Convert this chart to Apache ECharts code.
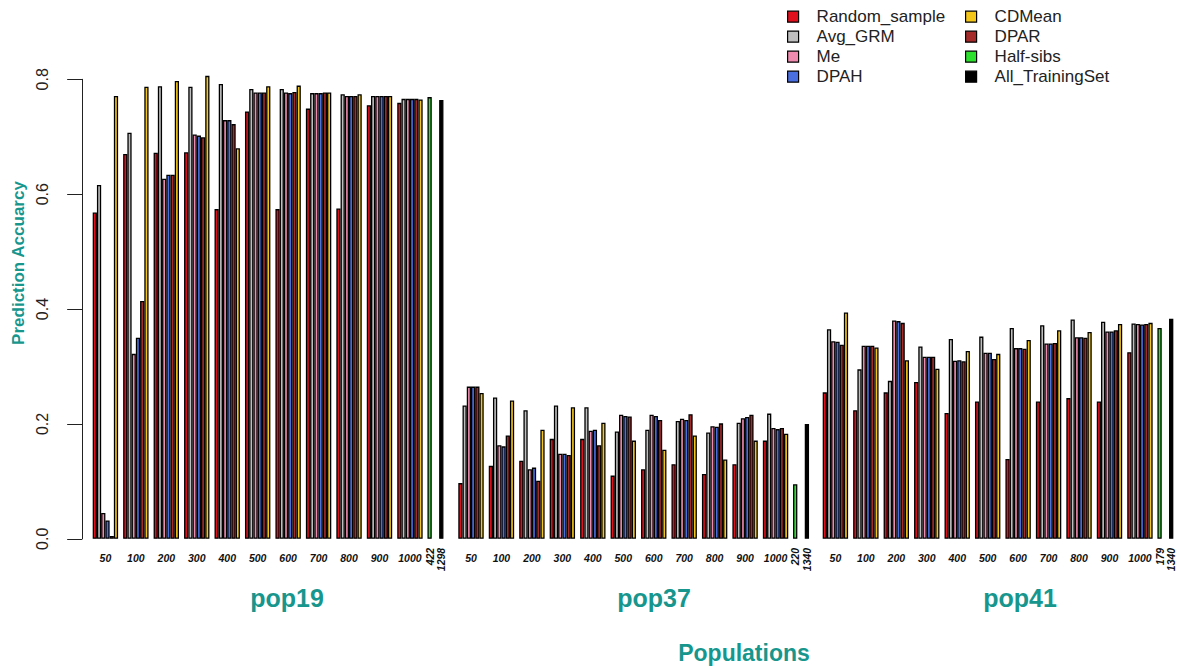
<!DOCTYPE html>
<html>
<head>
<meta charset="utf-8">
<script src="https://cdn.jsdelivr.net/npm/echarts@6/dist/echarts.min.js"></script>
<style>
html,body{margin:0;padding:0;background:#fff;}
#chart{width:1177px;height:669px;}
</style>
</head>
<body>
<div id="chart"></div>
<script>
// ---- Data ----
const sizes = ['50','100','200','300','400','500','600','700','800','900','1000'];
const populations = ['pop19','pop37','pop41'];
const methodNames = ['Random_sample','Avg_GRM','Me','DPAH','DPAR','CDMean'];

const pop19Random = [0.568,0.670,0.672,0.673,0.574,0.744,0.574,0.749,0.575,0.755,0.759];
const pop19AvgGRM = [0.616,0.707,0.788,0.787,0.792,0.783,0.783,0.776,0.774,0.771,0.766];
const pop19Me     = [0.045,0.322,0.627,0.704,0.729,0.777,0.777,0.776,0.771,0.771,0.766];
const pop19DPAH   = [0.032,0.350,0.634,0.702,0.729,0.777,0.776,0.776,0.771,0.771,0.766];
const pop19DPAR   = [0.005,0.414,0.634,0.699,0.722,0.777,0.778,0.777,0.771,0.771,0.766];
const pop19CDMean = [0.771,0.787,0.797,0.806,0.680,0.788,0.789,0.777,0.774,0.771,0.765];

const pop37Random = [0.097,0.127,0.136,0.174,0.174,0.110,0.121,0.130,0.113,0.130,0.171];
const pop37AvgGRM = [0.232,0.246,0.224,0.232,0.229,0.187,0.190,0.205,0.185,0.202,0.218];
const pop37Me     = [0.265,0.163,0.121,0.148,0.188,0.216,0.216,0.209,0.196,0.210,0.193];
const pop37DPAH   = [0.265,0.161,0.124,0.148,0.190,0.214,0.214,0.207,0.195,0.212,0.191];
const pop37DPAR   = [0.265,0.180,0.101,0.146,0.163,0.213,0.207,0.217,0.201,0.216,0.193];
const pop37CDMean = [0.254,0.241,0.190,0.229,0.202,0.171,0.155,0.180,0.138,0.171,0.183];

const pop41Random = [0.255,0.224,0.255,0.273,0.219,0.239,0.139,0.239,0.245,0.239,0.325];
const pop41AvgGRM = [0.365,0.295,0.275,0.335,0.348,0.352,0.367,0.372,0.382,0.378,0.375];
const pop41Me     = [0.344,0.336,0.380,0.317,0.310,0.324,0.332,0.340,0.351,0.361,0.374];
const pop41DPAH   = [0.343,0.336,0.379,0.317,0.311,0.324,0.332,0.340,0.351,0.361,0.373];
const pop41DPAR   = [0.338,0.336,0.376,0.317,0.309,0.313,0.331,0.341,0.350,0.363,0.374];
const pop41CDMean = [0.394,0.333,0.311,0.296,0.327,0.322,0.346,0.363,0.360,0.374,0.376];

const halfSibsValues = [0.769,0.095,0.367];
const halfSibsLabels = ['422','220','179'];
const allSetValues   = [0.764,0.200,0.383];
const allSetLabels   = ['1298','1340','1340'];

const yTicks = [0,0.2,0.4,0.6,0.8];

// ---- Styles ----
const methodColors = {
  'Random_sample':'#e0101c','Avg_GRM':'#bebebe','Me':'#ee8bae',
  'DPAH':'#4a6fe0','DPAR':'#a52a2a','CDMean':'#f5c61a'
};
const halfColor = '#2ee02e', allColor = '#000000';
const teal = '#17968d';
const FONT = 'Liberation Sans, Arial, sans-serif';

const popData = [
  [pop19Random,pop19AvgGRM,pop19Me,pop19DPAH,pop19DPAR,pop19CDMean],
  [pop37Random,pop37AvgGRM,pop37Me,pop37DPAH,pop37DPAR,pop37CDMean],
  [pop41Random,pop41AvgGRM,pop41Me,pop41DPAH,pop41DPAR,pop41CDMean]
];

const starts = [92.7, 458.3, 822.7];
const gridTop = 79.3, gridH = 459.5;

const grid = [], xAxis = [], yAxis = [], series = [];
starts.forEach((s, p) => {
  grid.push({left: s - 2.53, top: gridTop, width: 335, height: gridH});
  grid.push({left: s + 331.05, top: gridTop, width: 23.4, height: gridH});
  const gA = 2*p, gB = 2*p+1;
  xAxis.push({
    type:'category', gridIndex:gA, data: sizes,
    axisLine:{show:false}, axisTick:{show:false},
    axisLabel:{margin:14, fontSize:10.5, fontWeight:'bold', fontStyle:'italic', color:'#111', fontFamily:FONT, interval:0}
  });
  xAxis.push({
    type:'category', gridIndex:gB, data:[halfSibsLabels[p], allSetLabels[p]],
    axisLine:{show:false}, axisTick:{show:false},
    axisLabel:{margin:9, rotate:90, fontSize:10.5, fontWeight:'bold', fontStyle:'italic', color:'#111', fontFamily:FONT, interval:0}
  });
  const yBase = {type:'value', min:0, max:0.8, interval:0.2, splitLine:{show:false}};
  if (p === 0) {
    yAxis.push(Object.assign({}, yBase, {
      gridIndex:gA, offset:8,
      axisLine:{show:true, lineStyle:{color:'#222', width:1}},
      axisTick:{show:true, length:15, lineStyle:{color:'#222', width:1}},
      axisLabel:{rotate:90, margin:32, fontSize:16, color:'#222', fontFamily:FONT,
        formatter: v => yTicks.indexOf(+v.toFixed(1)) >= 0 ? v.toFixed(1) : ''}
    }));
  } else {
    yAxis.push(Object.assign({}, yBase, {gridIndex:gA, show:false}));
  }
  yAxis.push(Object.assign({}, yBase, {gridIndex:gB, show:false}));

  methodNames.forEach((m, i) => {
    series.push({
      name:m, type:'bar', xAxisIndex:gA, yAxisIndex:gA,
      data: popData[p][i], barGap:'0%', barCategoryGap:'16.6%', clip:false,
      itemStyle:{color:methodColors[m], borderColor:'#000', borderWidth:1.3}
    });
  });
  series.push({
    name:'Half-sibs', type:'bar', xAxisIndex:gB, yAxisIndex:gB,
    data:[halfSibsValues[p], '-'], barWidth:4.3, barGap:'-100%', clip:false,
    itemStyle:{color:halfColor, borderColor:'#000', borderWidth:1.3}
  });
  series.push({
    name:'All_TrainingSet', type:'bar', xAxisIndex:gB, yAxisIndex:gB,
    data:['-', allSetValues[p]], barWidth:4.3, barGap:'-100%', clip:false,
    itemStyle:{color:allColor, borderColor:'#000', borderWidth:1.3}
  });
});

const legendBase = {
  orient:'vertical', top:8.2, padding:0, itemWidth:11, itemHeight:11, itemGap:3,
  icon:'rect', selectedMode:false,
  itemStyle:{borderColor:'#000', borderWidth:1.2},
  textStyle:{fontSize:17, lineHeight:17, color:'#222', fontFamily:FONT, padding:[0,0,0,13]}
};

const graphicTexts = [
  {type:'text', x:18, y:263, rotation:Math.PI/2,
   style:{text:'Prediction Accuarcy', font:'bold 17px '+FONT, fill:teal, align:'center', verticalAlign:'middle', textAlign:'center', textVerticalAlign:'middle'}},
  {type:'text', x:744, y:653,
   style:{text:'Populations', font:'bold 23px '+FONT, fill:teal, align:'center', verticalAlign:'middle', textAlign:'center', textVerticalAlign:'middle'}}
];
const popLabelX = [287, 654, 1020];
populations.forEach((name, p) => {
  graphicTexts.push({type:'text', x:popLabelX[p], y:598,
    style:{text:name, font:'bold 25px '+FONT, fill:teal, align:'center', verticalAlign:'middle', textAlign:'center', textVerticalAlign:'middle'}});
});

const chart = echarts.init(document.getElementById('chart'), null, {renderer:'svg'});
chart.setOption({
  animation:false,
  backgroundColor:'#ffffff',
  grid, xAxis, yAxis, series,
  legend:[
    Object.assign({}, legendBase, {left:787, data:['Random_sample','Avg_GRM','Me','DPAH']}),
    Object.assign({}, legendBase, {left:965, data:['CDMean','DPAR','Half-sibs','All_TrainingSet']})
  ],
  graphic: graphicTexts
});
</script>
</body>
</html>
